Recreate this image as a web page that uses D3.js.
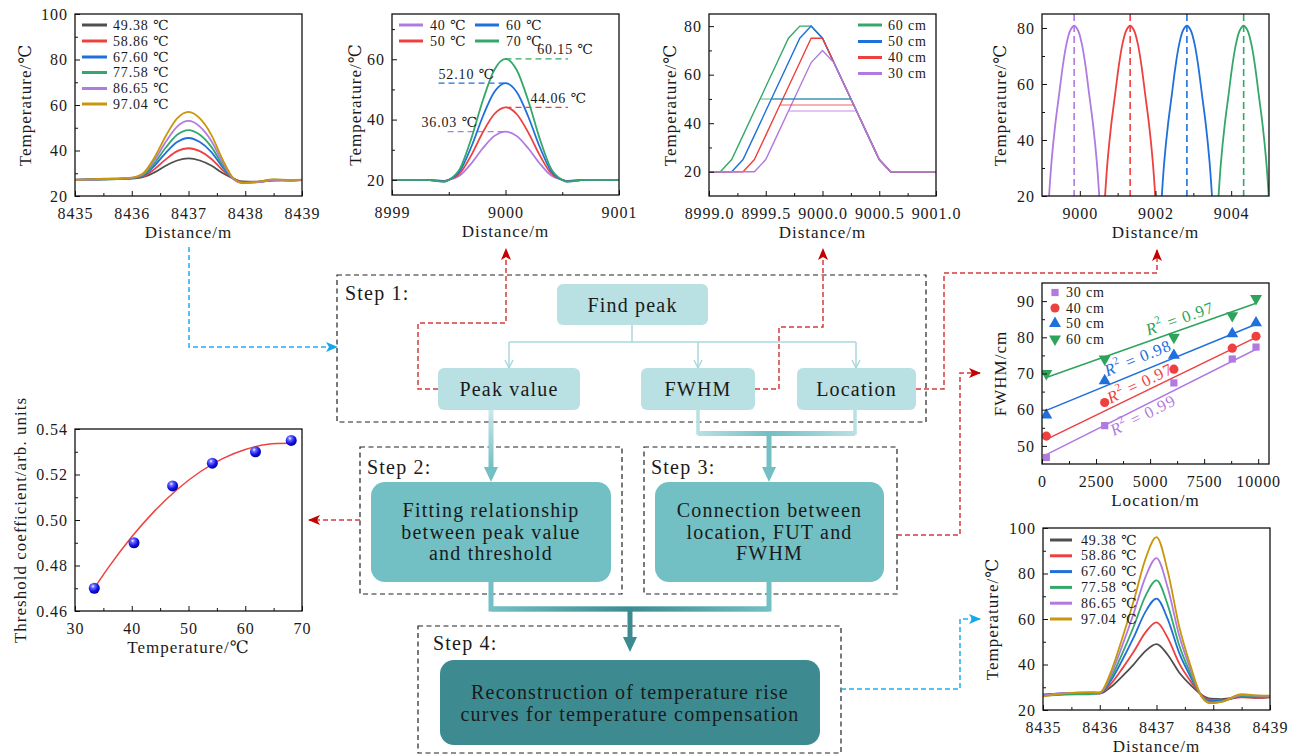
<!DOCTYPE html>
<html>
<head>
<meta charset="utf-8">
<script src="https://cdn.jsdelivr.net/npm/d3@7"></script>
<style>
body { margin: 0; background: #fff; }
svg text { font-family: "Liberation Serif", "Times New Roman", Times, "DejaVu Serif", serif; fill: #1a1a1a; letter-spacing: 0.06em; }
.tk text { font-size: 16px; }
.lab { font-size: 17px; }
.leg { font-size: 14px; }
.box { font-size: 20px; }
</style>
</head>
<body>
<div id="chart"></div>
<script>
// ---------- data ----------

// panel a : measured temperature rise (top left)
var aDistance = [8435, 8435.5, 8436, 8436.2, 8436.4, 8436.6, 8436.8, 8437, 8437.2, 8437.4, 8437.6, 8437.8, 8437.95, 8438.2, 8438.5, 8438.8, 8439];
var aLegend = ["49.38 ℃", "58.86 ℃", "67.60 ℃", "77.58 ℃", "86.65 ℃", "97.04 ℃"];
var aTemp = [
    [27.2, 27.5, 27.7, 28.3, 30.4, 33.3, 35.6, 36.5, 35.6, 33.4, 30.1, 27.6, 26.4, 26.3, 26.8, 27.0, 27.0],
    [27.0, 27.3, 27.8, 28.6, 31.8, 36.1, 39.7, 41.0, 39.7, 36.4, 31.4, 27.5, 26.1, 26.2, 27.0, 26.8, 27.0],
    [27.1, 27.4, 27.9, 29.0, 33.3, 39.0, 43.7, 45.5, 43.7, 39.4, 32.7, 27.4, 25.9, 26.1, 27.1, 26.9, 27.1],
    [27.0, 27.2, 27.9, 29.3, 34.4, 41.3, 46.9, 49.0, 46.9, 41.7, 33.7, 27.3, 25.8, 26.1, 27.2, 26.9, 27.0],
    [27.0, 27.3, 28.0, 29.7, 35.7, 43.8, 50.5, 53.0, 50.5, 44.3, 34.9, 27.3, 25.7, 26.0, 26.9, 27.1, 27.0],
    [27.1, 27.6, 28.1, 30.0, 36.9, 46.4, 54.1, 57.0, 54.1, 47.0, 36.1, 27.5, 25.8, 26.2, 27.3, 27.1, 27.2]
];

// panel b : simulated peaks
var bDistance = [8999, 8999.3, 8999.46, 8999.5, 8999.6, 8999.7, 8999.8, 8999.9, 9000, 9000.1, 9000.2, 9000.3, 9000.4, 9000.5, 9000.54, 9000.7, 9001];
var bLegend = ["40 ℃", "50 ℃", "60 ℃", "70 ℃"];
var bTemp = [
    [20, 20, 19.7, 20, 21.52, 25.53, 30.50, 34.51, 36.03, 34.51, 30.50, 25.53, 21.52, 20, 19.7, 20, 20],
    [20, 20, 19.6, 20, 22.29, 28.30, 35.76, 41.77, 44.06, 41.77, 35.76, 28.30, 22.29, 20, 19.6, 20, 20],
    [20, 20, 19.5, 20, 23.05, 31.07, 41.03, 49.05, 52.10, 49.05, 41.03, 31.07, 23.05, 20, 19.5, 20, 20],
    [20, 20, 19.4, 20, 23.81, 33.85, 46.30, 56.34, 60.15, 56.34, 46.30, 33.85, 23.81, 20, 19.4, 20, 20]
];
var bPeak = [36.03, 44.06, 52.10, 60.15];
var bPeakFrom = [8999.49, 9000, 8999.41, 9000];
var bPeakTo = [9000, 9000.55, 9000, 9000.55];

// panel c : heated length vs FWHM
var cDistance = [8999.0, 8999.1, 8999.2, 8999.3, 8999.4, 8999.5, 8999.6, 8999.7, 8999.8, 8999.9, 9000.0, 9000.1, 9000.2, 9000.3, 9000.4, 9000.5, 9000.6, 9000.7, 9000.8, 9000.9, 9001.0];
var cLegend = ["60 cm", "50 cm", "40 cm", "30 cm"];
var cTemp = [
    [20, 20, 25, 35, 45, 55, 65, 75, 80, 80, 75, 65, 55, 45, 35, 25, 20, 20, 20, 20, 20],
    [20, 20, 20, 25, 35, 45, 55, 65, 75, 80, 75, 65, 55, 45, 35, 25, 20, 20, 20, 20, 20],
    [20, 20, 20, 20, 25, 35, 45, 55, 65, 75, 75, 65, 55, 45, 35, 25, 20, 20, 20, 20, 20],
    [20, 20, 20, 20, 20, 25, 35, 45, 55, 65, 70, 65, 55, 45, 35, 25, 20, 20, 20, 20, 20]
];
var cHalf = [50, 50, 47.5, 45];
var cHalfFrom = [8999.45, 8999.55, 8999.625, 8999.7];
var cHalfTo = [9000.25, 9000.25, 9000.275, 9000.3];

// panel d : peak location
var dDistance = [
    [8999.15, 8999.25, 8999.35, 8999.45, 8999.55, 8999.65, 8999.75, 8999.85, 8999.95, 9000.05, 9000.15, 9000.25, 9000.35, 9000.45, 9000.55],
    [9000.63, 9000.73, 9000.83, 9000.93, 9001.03, 9001.13, 9001.23, 9001.33, 9001.43, 9001.53, 9001.63, 9001.73, 9001.83, 9001.93, 9002.03],
    [9002.13, 9002.23, 9002.33, 9002.43, 9002.53, 9002.63, 9002.73, 9002.83, 9002.93, 9003.03, 9003.13, 9003.23, 9003.33, 9003.43, 9003.53],
    [9003.63, 9003.73, 9003.83, 9003.93, 9004.03, 9004.13, 9004.23, 9004.33, 9004.43, 9004.53, 9004.63, 9004.73, 9004.83, 9004.93, 9005.03]
];
var dTemp = [12, 32, 45.5, 56, 66.5, 74.5, 79.2, 80.8, 79.2, 74.5, 66.5, 56, 45.5, 32, 12];
var dPeakAt = [8999.85, 9001.33, 9002.83, 9004.33];

// panel e : FWHM vs location
var eLocation = [200, 2900, 6100, 8800, 9900];
var eLegend = ["30 cm", "40 cm", "50 cm", "60 cm"];
var eFwhm = [
    [46.8, 55.6, 67.4, 74.0, 77.3],
    [52.7, 62.0, 71.2, 77.0, 80.3],
    [58.5, 68.0, 75.0, 81.0, 84.0],
    [70.0, 74.0, 80.0, 86.0, 90.7]
];
var eFitStart = [47.6, 51.8, 59.8, 68.9];
var eFitEnd = [76.7, 80.0, 83.6, 89.4];
var eR2 = ["0.99", "0.97", "0.98", "0.97"];

// panel f : threshold coefficient
var fTemp = [33.4, 40.4, 47.2, 54.2, 61.8, 68.1];
var fCoef = [0.470, 0.490, 0.515, 0.525, 0.530, 0.535];
var fFitTemp = [33.4, 36, 40, 44, 48, 52, 56, 60, 64, 68];
var fFitCoef = [0.470, 0.4795, 0.4926, 0.5039, 0.5134, 0.5211, 0.5270, 0.5310, 0.5333, 0.5337];

// panel g : reconstructed curves
var gDistance = [8435, 8435.4, 8435.8, 8436, 8436.2, 8436.4, 8436.6, 8436.8, 8437, 8437.2, 8437.4, 8437.6, 8437.8, 8437.95, 8438.15, 8438.5, 8438.8, 8439];
var gTemp = [
    [26.8, 27.2, 27.4, 27.2, 30.2, 34.9, 40.1, 45.8, 49.0, 44.2, 36.5, 31.0, 26.6, 25.0, 24.8, 25.8, 25.3, 25.6],
    [26.5, 27.0, 27.5, 27.3, 31.6, 38.3, 45.7, 53.9, 58.5, 51.6, 40.5, 32.7, 26.4, 24.4, 24.3, 25.6, 25.4, 25.8],
    [26.6, 27.4, 27.3, 27.4, 33.1, 42.1, 52.0, 62.9, 69.0, 59.8, 45.1, 34.6, 26.2, 23.9, 24.1, 26.0, 25.8, 26.0],
    [26.2, 26.8, 26.9, 27.5, 34.3, 45.0, 56.8, 69.8, 77.0, 66.0, 48.5, 36.0, 26.0, 23.5, 23.8, 26.3, 25.9, 25.8],
    [26.4, 27.5, 27.6, 27.6, 35.7, 48.5, 62.6, 78.1, 86.8, 73.6, 52.7, 37.8, 25.8, 23.0, 23.7, 26.6, 26.2, 26.2],
    [26.0, 27.3, 27.9, 27.7, 37.0, 51.8, 68.1, 86.0, 96.0, 80.8, 56.7, 39.4, 25.6, 23.0, 23.6, 27.0, 26.4, 26.3]
];

// tick values
var distTicks = [8435, 8436, 8437, 8438, 8439];
var distMinor = [8435.5, 8436.5, 8437.5, 8438.5];
var tempTicks100 = [20, 40, 60, 80, 100];
var tempMinor100 = [30, 50, 70, 90];

// ---------- colours ----------
var gray = "#4f4f4f", red = "#ef4040", blue = "#1f6fdc", green = "#33a86a", purple = "#b07ae0", gold = "#c9960c";
var sixColors = [gray, red, blue, green, purple, gold];
var fourColors = [purple, red, blue, green];
var teal1 = "#b9e0e3", teal2 = "#72bfc4", teal3 = "#3d8a90";

var svg = d3.select("#chart").append("svg")
    .attr("width", 1298)
    .attr("height", 756);
var defs = svg.append("defs");
var clipCount = 0;

// one framed panel with inward ticks on the left and bottom
function makePanel(o) {
    var x = d3.scaleLinear().domain(o.xDomain).range([o.left, o.right]);
    var y = d3.scaleLinear().domain(o.yDomain).range([o.bottom, o.top]);
    var id = "clip" + (clipCount++);
    defs.append("clipPath").attr("id", id).append("rect")
        .attr("x", o.left).attr("y", o.top)
        .attr("width", o.right - o.left).attr("height", o.bottom - o.top);
    var g = svg.append("g");
    var plot = g.append("g").attr("clip-path", "url(#" + id + ")");
    var front = g.append("g");

    front.append("g").attr("transform", "translate(0," + o.bottom + ")")
        .call(d3.axisBottom(x).tickValues(o.xMinor).tickSize(-3).tickFormat(""));
    front.append("g").attr("transform", "translate(" + o.left + ",0)")
        .call(d3.axisLeft(y).tickValues(o.yMinor).tickSize(-3).tickFormat(""));
    front.append("g").attr("class", "tk").attr("transform", "translate(0," + o.bottom + ")")
        .call(d3.axisBottom(x).tickValues(o.xTicks).tickSizeInner(-5).tickSizeOuter(0).tickPadding(11.5).tickFormat(o.xFormat));
    front.append("g").attr("class", "tk").attr("transform", "translate(" + o.left + ",0)")
        .call(d3.axisLeft(y).tickValues(o.yTicks).tickSizeInner(-5).tickSizeOuter(0).tickPadding(7).tickFormat(o.yFormat));
    front.selectAll(".domain").remove();
    front.selectAll(".tick line").attr("stroke", "#111");

    front.append("rect")
        .attr("x", o.left).attr("y", o.top)
        .attr("width", o.right - o.left).attr("height", o.bottom - o.top)
        .attr("fill", "none").attr("stroke", "#111").attr("stroke-width", 1.3);

    front.append("text").attr("class", "lab")
        .attr("x", (o.left + o.right) / 2).attr("y", o.bottom + 36)
        .attr("text-anchor", "middle").attr("dominant-baseline", "central")
        .text(o.xLabel);
    front.append("text").attr("class", "lab")
        .attr("transform", "translate(" + o.yLabelX + "," + ((o.top + o.bottom) / 2) + ")rotate(-90)")
        .attr("text-anchor", "middle").attr("dominant-baseline", "central")
        .text(o.yLabel);
    return {x: x, y: y, plot: plot, front: front};
}

function drawLegendLines(g, names, colors, x0, x1, tx, ys) {
    names.forEach(function(n, i) {
        g.append("line").attr("x1", x0).attr("x2", x1).attr("y1", ys[i]).attr("y2", ys[i])
            .attr("stroke", colors[i]).attr("stroke-width", 3);
        g.append("text").attr("class", "leg").attr("x", tx).attr("y", ys[i])
            .attr("dominant-baseline", "central").text(n);
    });
}

// ---------- panel a ----------
var pa = makePanel({left: 75, right: 302, top: 14, bottom: 196,
    xDomain: [8435, 8439], yDomain: [20, 100],
    xTicks: distTicks, xMinor: distMinor, yTicks: tempTicks100, yMinor: tempMinor100,
    xFormat: d3.format("d"), yFormat: d3.format("d"),
    xLabel: "Distance/m", yLabel: "Temperature/℃", yLabelX: 25});
aTemp.forEach(function(s, k) {
    pa.plot.append("path").datum(s)
        .attr("fill", "none").attr("stroke", sixColors[k]).attr("stroke-width", 1.8)
        .attr("d", d3.line().x(function(d, i) { return pa.x(aDistance[i]); })
            .y(function(d) { return pa.y(d); }).curve(d3.curveMonotoneX));
});
drawLegendLines(pa.front, aLegend, sixColors, 82, 107, 113, [25, 41, 57, 72.5, 88.5, 104]);

// ---------- panel b ----------
var pb = makePanel({left: 392, right: 619, top: 14, bottom: 195,
    xDomain: [8999, 9001], yDomain: [15, 75],
    xTicks: [8999, 9000, 9001], xMinor: [8999.5, 9000.5], yTicks: [20, 40, 60], yMinor: [30, 50, 70],
    xFormat: d3.format("d"), yFormat: d3.format("d"),
    xLabel: "Distance/m", yLabel: "Temperature/℃", yLabelX: 355});
var bLabelX = [8999.26, 9000.22, 8999.41, 9000.28];
bTemp.forEach(function(s, k) {
    pb.plot.append("line")
        .attr("x1", pb.x(bPeakFrom[k])).attr("x2", pb.x(bPeakTo[k]))
        .attr("y1", pb.y(bPeak[k])).attr("y2", pb.y(bPeak[k]))
        .attr("stroke", fourColors[k]).attr("stroke-width", 1.3).attr("stroke-dasharray", "6,4");
    pb.front.append("text").attr("class", "leg")
        .attr("x", pb.x(bLabelX[k])).attr("y", pb.y(bPeak[k]) - 9)
        .attr("dominant-baseline", "central")
        .text(d3.format(".2f")(bPeak[k]) + " ℃");
});
bTemp.forEach(function(s, k) {
    pb.plot.append("path").datum(s)
        .attr("fill", "none").attr("stroke", fourColors[k]).attr("stroke-width", 1.8)
        .attr("d", d3.line().x(function(d, i) { return pb.x(bDistance[i]); })
            .y(function(d) { return pb.y(d); }).curve(d3.curveMonotoneX));
});
drawLegendLines(pb.front, bLegend.slice(0, 2), fourColors.slice(0, 2), 399, 423, 430, [25, 41]);
drawLegendLines(pb.front, bLegend.slice(2), fourColors.slice(2), 475, 499, 506, [25, 41]);

// ---------- panel c ----------
var cColors = [green, blue, red, purple];
var pc = makePanel({left: 709, right: 936, top: 14, bottom: 196,
    xDomain: [8999, 9001], yDomain: [10, 85],
    xTicks: [8999, 8999.5, 9000, 9000.5, 9001], xMinor: [8999.25, 8999.75, 9000.25, 9000.75],
    yTicks: [20, 40, 60, 80], yMinor: [30, 50, 70],
    xFormat: d3.format(".1f"), yFormat: d3.format("d"),
    xLabel: "Distance/m", yLabel: "Temperature/℃", yLabelX: 670});
cTemp.forEach(function(s, k) {
    pc.plot.append("path").datum(s)
        .attr("fill", "none").attr("stroke", cColors[k]).attr("stroke-width", 1.4)
        .attr("d", d3.line().x(function(d, i) { return pc.x(cDistance[i]); })
            .y(function(d) { return pc.y(d); }));
});
cHalf.forEach(function(v, k) {
    pc.plot.append("line")
        .attr("x1", pc.x(cHalfFrom[k])).attr("x2", pc.x(cHalfTo[k]))
        .attr("y1", pc.y(v)).attr("y2", pc.y(v))
        .attr("stroke", cColors[k]).attr("stroke-opacity", 0.55).attr("stroke-width", 1.6);
});
drawLegendLines(pc.front, cLegend, cColors, 858, 882, 888, [25, 41.5, 57.5, 73.5]);

// ---------- panel d ----------
var pd = makePanel({left: 1042, right: 1269, top: 14, bottom: 196,
    xDomain: [8999, 9005], yDomain: [20, 85],
    xTicks: [9000, 9002, 9004], xMinor: [9001, 9003],
    yTicks: [20, 40, 60, 80], yMinor: [30, 50, 70],
    xFormat: d3.format("d"), yFormat: d3.format("d"),
    xLabel: "Distance/m", yLabel: "Temperature/℃", yLabelX: 1000});
dDistance.forEach(function(xs, k) {
    pd.plot.append("path").datum(dTemp)
        .attr("fill", "none").attr("stroke", fourColors[k]).attr("stroke-width", 1.8)
        .attr("d", d3.line().x(function(d, i) { return pd.x(xs[i]); })
            .y(function(d) { return pd.y(d); }).curve(d3.curveCatmullRom));
    pd.plot.append("line")
        .attr("x1", pd.x(dPeakAt[k])).attr("x2", pd.x(dPeakAt[k]))
        .attr("y1", 14).attr("y2", 196)
        .attr("stroke", fourColors[k]).attr("stroke-width", 1.6).attr("stroke-dasharray", "7,4");
});

// ---------- panel e ----------
var pe = makePanel({left: 1042, right: 1269, top: 283, bottom: 464,
    xDomain: [0, 10500], yDomain: [45, 95],
    xTicks: [0, 2500, 5000, 7500, 10000], xMinor: [1250, 3750, 6250, 8750],
    yTicks: [50, 60, 70, 80, 90], yMinor: [55, 65, 75, 85],
    xFormat: d3.format("d"), yFormat: d3.format("d"),
    xLabel: "Location/m", yLabel: "FWHM/cm", yLabelX: 1000});
var eColors = [purple, red, blue, "#2ea35c"];
var eSymbols = [d3.symbolSquare, d3.symbolCircle, d3.symbolTriangle, d3.symbolTriangle];
var eSizes = [52, 66, 62, 62];
var eTurn = [0, 0, 0, 180];
var eLabelLoc = [4660, 4520, 4430, 6370];
var eLabelFwhm = [58.6, 67.4, 74.4, 85.3];
eFwhm.forEach(function(s, k) {
    var xa = pe.x(eLocation[0]), xb = pe.x(eLocation[eLocation.length - 1]);
    var ya = pe.y(eFitStart[k]), yb = pe.y(eFitEnd[k]);
    pe.plot.append("line").attr("x1", xa).attr("x2", xb).attr("y1", ya).attr("y2", yb)
        .attr("stroke", eColors[k]).attr("stroke-width", 1.5);
    pe.plot.selectAll(null).data(s).enter().append("path")
        .attr("d", d3.symbol().type(eSymbols[k]).size(eSizes[k]))
        .attr("transform", function(d, i) {
            return "translate(" + pe.x(eLocation[i]) + "," + pe.y(d) + ")rotate(" + eTurn[k] + ")";
        })
        .attr("fill", eColors[k]);
    var ang = Math.atan2(yb - ya, xb - xa) * 180 / Math.PI;
    var t = pe.front.append("text")
        .attr("transform", "translate(" + pe.x(eLabelLoc[k]) + "," + pe.y(eLabelFwhm[k]) + ")rotate(" + ang + ")")
        .attr("text-anchor", "middle").attr("dominant-baseline", "central")
        .style("font-size", "16.5px").style("fill", eColors[k]);
    t.append("tspan").style("font-style", "italic").style("fill", eColors[k]).text("R");
    t.append("tspan").attr("dy", -6).style("font-size", "11px").style("fill", eColors[k]).text("2");
    t.append("tspan").attr("dy", 6).style("fill", eColors[k]).text(" = " + eR2[k]);
});
eLegend.forEach(function(n, i) {
    var yy = [292.5, 308, 323.5, 339][i];
    pe.front.append("path")
        .attr("d", d3.symbol().type(eSymbols[i]).size(eSizes[i]))
        .attr("transform", "translate(1055," + yy + ")rotate(" + eTurn[i] + ")")
        .attr("fill", eColors[i]);
    pe.front.append("text").attr("class", "leg").attr("x", 1066).attr("y", yy)
        .attr("dominant-baseline", "central").text(n);
});

// ---------- panel f ----------
var pf = makePanel({left: 75, right: 302, top: 429, bottom: 611,
    xDomain: [30, 70], yDomain: [0.46, 0.54],
    xTicks: [30, 40, 50, 60, 70], xMinor: [35, 45, 55, 65],
    yTicks: [0.46, 0.48, 0.50, 0.52, 0.54], yMinor: [0.47, 0.49, 0.51, 0.53],
    xFormat: d3.format("d"), yFormat: d3.format(".2f"),
    xLabel: "Temperature/℃", yLabel: "Threshold coefficient/arb. units", yLabelX: 20});
var ball = defs.append("radialGradient").attr("id", "ball")
    .attr("cx", "38%").attr("cy", "32%").attr("r", "70%");
ball.append("stop").attr("offset", "0%").attr("stop-color", "#ffffff");
ball.append("stop").attr("offset", "22%").attr("stop-color", "#7070ff");
ball.append("stop").attr("offset", "65%").attr("stop-color", "#1212e6");
ball.append("stop").attr("offset", "100%").attr("stop-color", "#00009a");
pf.plot.append("path").datum(fFitCoef)
    .attr("fill", "none").attr("stroke", "#f04040").attr("stroke-width", 1.5)
    .attr("d", d3.line().x(function(d, i) { return pf.x(fFitTemp[i]); })
        .y(function(d) { return pf.y(d); }).curve(d3.curveNatural));
pf.front.selectAll(null).data(fCoef).enter().append("circle")
    .attr("cx", function(d, i) { return pf.x(fTemp[i]); })
    .attr("cy", function(d) { return pf.y(d); })
    .attr("r", 5.5)
    .attr("fill", "url(#ball)");

// ---------- panel g ----------
var pg = makePanel({left: 1043, right: 1270, top: 528, bottom: 710,
    xDomain: [8435, 8439], yDomain: [20, 100],
    xTicks: distTicks, xMinor: distMinor, yTicks: tempTicks100, yMinor: tempMinor100,
    xFormat: d3.format("d"), yFormat: d3.format("d"),
    xLabel: "Distance/m", yLabel: "Temperature/℃", yLabelX: 992});
gTemp.forEach(function(s, k) {
    pg.plot.append("path").datum(s)
        .attr("fill", "none").attr("stroke", sixColors[k]).attr("stroke-width", 1.8)
        .attr("d", d3.line().x(function(d, i) { return pg.x(gDistance[i]); })
            .y(function(d) { return pg.y(d); }).curve(d3.curveMonotoneX));
});
drawLegendLines(pg.front, aLegend, sixColors, 1050, 1072, 1081, [540, 555.8, 571.6, 587.4, 603.2, 619]);

// ---------- flow chart ----------
var flow = svg.append("g");

function arrowMarker(id, color) {
    defs.append("marker").attr("id", id)
        .attr("viewBox", "0 0 12 10").attr("refX", 11).attr("refY", 5)
        .attr("markerWidth", 12).attr("markerHeight", 10)
        .attr("markerUnits", "userSpaceOnUse").attr("orient", "auto")
        .append("path").attr("d", "M0,0 L12,5 L0,10 L3,5 Z").attr("fill", color);
}
arrowMarker("arRed", "#c40000");
arrowMarker("arBlue", "#12a8ec");
defs.append("marker").attr("id", "arOpen")
    .attr("viewBox", "0 0 10 10").attr("refX", 9).attr("refY", 5)
    .attr("markerWidth", 10).attr("markerHeight", 10)
    .attr("markerUnits", "userSpaceOnUse").attr("orient", "auto")
    .append("path").attr("d", "M1,1 L9,5 L1,9").attr("fill", "none")
    .attr("stroke", "#a9d8dc").attr("stroke-width", 1.4);

var poly = d3.line();

function dashBox(x0, y0, x1, y1) {
    flow.append("rect").attr("x", x0).attr("y", y0).attr("width", x1 - x0).attr("height", y1 - y0)
        .attr("fill", "none").attr("stroke", "#222").attr("stroke-width", 1.2).attr("stroke-dasharray", "5,3.5");
}
function fillBox(x0, y0, x1, y1, fill, rx, lines, cy, gap) {
    flow.append("rect").attr("x", x0).attr("y", y0).attr("width", x1 - x0).attr("height", y1 - y0)
        .attr("rx", rx).attr("fill", fill);
    lines.forEach(function(l, i) {
        flow.append("text").attr("class", "box")
            .attr("x", (x0 + x1) / 2).attr("y", cy + i * gap)
            .attr("text-anchor", "middle").attr("dominant-baseline", "central").text(l);
    });
}
function dashed(points, color, marker) {
    var p = flow.append("path").attr("d", poly(points)).attr("fill", "none")
        .attr("stroke", color).attr("stroke-width", 1.5).attr("stroke-dasharray", "5,3");
    if (marker) p.attr("marker-end", "url(#" + marker + ")");
}
function stepLabel(x, y, t) {
    flow.append("text").attr("class", "box").attr("x", x).attr("y", y)
        .attr("dominant-baseline", "central").text(t);
}
function headDown(x, yTip, color) {
    flow.append("path").attr("d", poly([[x - 7, yTip - 15], [x + 7, yTip - 15], [x, yTip]]) + "Z")
        .attr("fill", color);
}

// gradients for the thick links
var gPeak = defs.append("linearGradient").attr("id", "gPeak").attr("x1", 0).attr("y1", 0).attr("x2", 0).attr("y2", 1);
gPeak.append("stop").attr("offset", "0%").attr("stop-color", "#cbe8ea");
gPeak.append("stop").attr("offset", "100%").attr("stop-color", teal2);
var gBar1 = defs.append("linearGradient").attr("id", "gBar1");
gBar1.append("stop").attr("offset", "0%").attr("stop-color", teal1);
gBar1.append("stop").attr("offset", "45%").attr("stop-color", teal2);
gBar1.append("stop").attr("offset", "100%").attr("stop-color", teal1);
var gBar2 = defs.append("linearGradient").attr("id", "gBar2");
gBar2.append("stop").attr("offset", "0%").attr("stop-color", teal2);
gBar2.append("stop").attr("offset", "50%").attr("stop-color", teal3);
gBar2.append("stop").attr("offset", "100%").attr("stop-color", teal2);

dashBox(337, 275, 926, 422);
dashBox(360, 447, 622, 594);
dashBox(644, 447, 897, 594);
dashBox(418, 626, 841, 753);
stepLabel(345, 293, "Step 1:");
stepLabel(367, 467, "Step 2:");
stepLabel(651, 467, "Step 3:");
stepLabel(433, 643, "Step 4:");

// step 1 thin links
flow.append("path").attr("d", poly([[632, 325], [632, 342]])).attr("stroke", "#a9d8dc").attr("stroke-width", 1.5);
flow.append("path").attr("d", poly([[509, 342], [856, 342]])).attr("stroke", "#a9d8dc").attr("stroke-width", 1.5);
[509, 698, 856].forEach(function(xx) {
    flow.append("path").attr("d", poly([[xx, 342], [xx, 368]])).attr("fill", "none")
        .attr("stroke", "#a9d8dc").attr("stroke-width", 1.5).attr("marker-end", "url(#arOpen)");
});

// thick links between steps
flow.append("rect").attr("x", 488.5).attr("y", 410).attr("width", 5).attr("height", 58).attr("fill", "url(#gPeak)");
headDown(491, 482, teal2);
flow.append("path").attr("d", poly([[698, 410], [698, 433], [855, 433], [855, 410]])).attr("fill", "none")
    .attr("stroke", teal1).attr("stroke-width", 3.5);
flow.append("rect").attr("x", 698).attr("y", 431).attr("width", 157).attr("height", 5).attr("fill", "url(#gBar1)");
flow.append("rect").attr("x", 766.5).attr("y", 433).attr("width", 5).attr("height", 35).attr("fill", teal2);
headDown(769, 482, teal2);

flow.append("path").attr("d", poly([[491, 582], [491, 609], [769, 609], [769, 582]])).attr("fill", "none")
    .attr("stroke", teal2).attr("stroke-width", 5);
flow.append("rect").attr("x", 491).attr("y", 606.5).attr("width", 278).attr("height", 5).attr("fill", "url(#gBar2)");
flow.append("rect").attr("x", 627.5).attr("y", 609).attr("width", 5).attr("height", 30).attr("fill", teal3);
headDown(630, 652, teal3);

// boxes
fillBox(557, 284, 708, 325, teal1, 6, ["Find peak"], 305, 0);
fillBox(438, 368, 580, 410, teal1, 6, ["Peak value"], 389, 0);
fillBox(641, 368, 755, 410, teal1, 6, ["FWHM"], 389, 0);
fillBox(797, 368, 916, 410, teal1, 6, ["Location"], 389, 0);
fillBox(371, 482, 611, 582, teal2, 14, ["Fitting relationship", "between peak value", "and threshold"], 510, 21.5);
fillBox(655, 482, 884, 582, teal2, 14, ["Connection between", "location, FUT and", "FWHM"], 510, 21.5);
fillBox(440, 660, 820, 745, teal3, 14, ["Reconstruction of temperature rise", "curves for temperature compensation"], 692, 21.5);

// dashed pointers to the panels
var redDash = "#d83a3a", blueDash = "#1ab0ef";
dashed([[438, 389], [418, 389], [418, 323], [506, 323], [506, 249]], redDash, "arRed");
dashed([[755, 389], [779, 389], [779, 327], [823, 327], [823, 249]], redDash, "arRed");
dashed([[916, 389], [944, 389], [944, 273], [1157, 273], [1157, 250]], redDash, "arRed");
dashed([[897, 535], [960, 535], [960, 373], [980, 373]], redDash, "arRed");
dashed([[360, 520], [309, 520]], redDash, "arRed");
dashed([[189, 247], [189, 347], [337, 347]], blueDash, "arBlue");
dashed([[841, 689], [960, 689], [960, 619], [980, 619]], blueDash, "arBlue");
</script>
</body>
</html>
